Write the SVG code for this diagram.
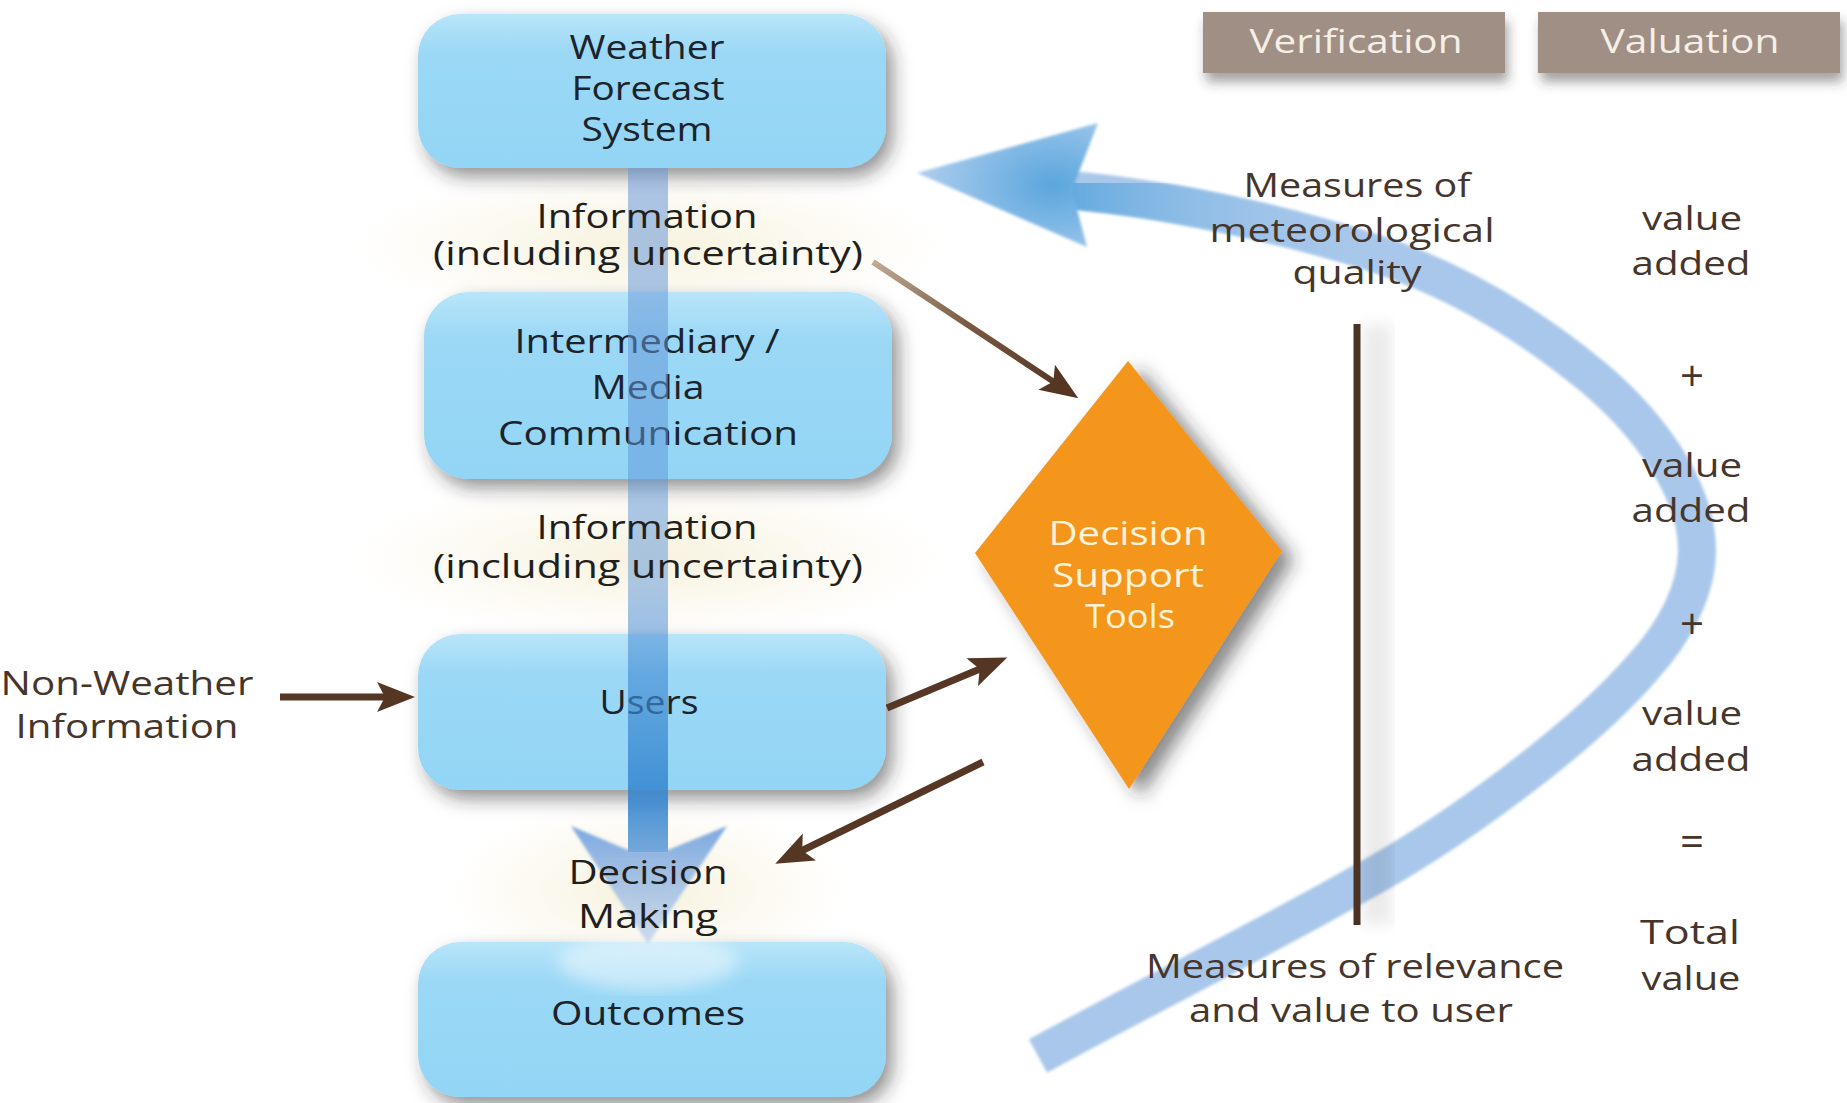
<svg xmlns="http://www.w3.org/2000/svg" width="1847" height="1103" viewBox="0 0 1847 1103">
<style>
text{font-family:"Open Sans","Noto Sans","Liberation Sans",sans-serif;text-anchor:middle}
.bt{font-size:32px;fill:#1b232b}
.lb{font-size:32px;fill:#221e1b}
.br{font-size:33px;fill:#46352b}
.dt{font-size:32px;fill:#fff3da}
.hd{font-size:32px;fill:#f5efe7}
.pm{font-size:42px;fill:#46352b}
.box{fill:url(#boxg);filter:url(#sh)}
.arr{fill:none;stroke:#563725;stroke-width:7;marker-end:url(#ah)}
</style>
<defs>
<linearGradient id="boxg" x1="0" y1="0" x2="0" y2="1">
<stop offset="0" stop-color="#b9e5f9"/>
<stop offset="0.25" stop-color="#9bd8f6"/>
<stop offset="1" stop-color="#93d5f5"/>
</linearGradient>
<linearGradient id="barg" x1="0" y1="168" x2="0" y2="860" gradientUnits="userSpaceOnUse">
<stop offset="0" stop-color="#6a98d8" stop-opacity="0.55"/>
<stop offset="0.6" stop-color="#5b95d8" stop-opacity="0.5"/>
<stop offset="0.8" stop-color="#3a88d0" stop-opacity="0.7"/>
<stop offset="0.92" stop-color="#2f82cf" stop-opacity="0.85"/>
<stop offset="1" stop-color="#5a96d6" stop-opacity="0.8"/>
</linearGradient>
<linearGradient id="headg" x1="0" y1="828" x2="0" y2="944" gradientUnits="userSpaceOnUse">
<stop offset="0" stop-color="#6e9fdc" stop-opacity="0.9"/>
<stop offset="1" stop-color="#a9c4ea" stop-opacity="0.55"/>
</linearGradient>
<linearGradient id="g1" x1="873" y1="262" x2="1060" y2="386" gradientUnits="userSpaceOnUse">
<stop offset="0" stop-color="#c0ab94"/>
<stop offset="0.5" stop-color="#7a5a42"/>
<stop offset="1" stop-color="#563725"/>
</linearGradient>
<linearGradient id="curveHead" x1="1075" y1="0" x2="1380" y2="0" gradientUnits="userSpaceOnUse">
<stop offset="0" stop-color="#5ea8de" stop-opacity="0.9"/>
<stop offset="1" stop-color="#a8c7ea" stop-opacity="0"/>
</linearGradient>
<radialGradient id="bigHead" cx="0.75" cy="0.5" r="0.7">
<stop offset="0" stop-color="#5aa6dd"/>
<stop offset="1" stop-color="#a8cbec"/>
</radialGradient>
<radialGradient id="glow" cx="0.5" cy="0.5" r="0.5">
<stop offset="0" stop-color="#f7f2de"/>
<stop offset="1" stop-color="#f7f2de" stop-opacity="0"/>
</radialGradient>
<filter id="sh" x="-20%" y="-20%" width="150%" height="160%">
<feDropShadow dx="7" dy="9" stdDeviation="9" flood-color="#2a2a2a" flood-opacity="0.5"/>
</filter>
<filter id="shd" x="-30%" y="-20%" width="170%" height="150%">
<feDropShadow dx="12" dy="8" stdDeviation="9" flood-color="#2a2a2a" flood-opacity="0.55"/>
</filter>
<filter id="shv" x="-10%" y="-30%" width="130%" height="190%">
<feDropShadow dx="3" dy="9" stdDeviation="6" flood-color="#333" flood-opacity="0.45"/>
</filter>
<filter id="blur8"><feGaussianBlur stdDeviation="8"/></filter>
<filter id="blur2"><feGaussianBlur stdDeviation="1.5"/></filter>
<marker id="ah" markerUnits="userSpaceOnUse" viewBox="-20 -18 44 36" refX="0" refY="0" markerWidth="44" markerHeight="36" orient="auto">
<path d="M22,0 L-16,-15 L-8,0 L-16,15 Z" fill="#553622"/>
</marker>
</defs>

<rect x="0" y="0" width="1847" height="1103" fill="#ffffff"/>
<!-- warm glow behind labels -->
<ellipse cx="648" cy="245" rx="300" ry="75" fill="url(#glow)"/>
<ellipse cx="648" cy="558" rx="300" ry="80" fill="url(#glow)"/>
<ellipse cx="648" cy="890" rx="200" ry="90" fill="url(#glow)"/>

<!-- column headers -->
<g id="verification">
<rect x="1203" y="12" width="302" height="61" fill="#9f8f84" filter="url(#shv)"/>
<text class="hd" x="1356" y="53" textLength="213" lengthAdjust="spacingAndGlyphs">Verification</text>
</g>
<g id="valuation">
<rect x="1538" y="12" width="302" height="61" fill="#9f8f84" filter="url(#shv)"/>
<text class="hd" x="1690" y="53" textLength="179" lengthAdjust="spacingAndGlyphs">Valuation</text>
</g>

<!-- connectors -->
<g id="connectors">
<g id="value-loop">
<path d="M1038,1056 C1140,1000 1260,940 1357,885 C1450,835 1580,740 1643,667 C1675,632 1697,590 1697,550 C1697,490 1650,425 1593,377 C1530,325 1460,282 1380,255 C1280,222 1160,198 1070,190" fill="none" stroke="#a8c7ea" stroke-width="38" filter="url(#blur2)"/>
<path d="M1380,255 C1280,222 1160,198 1070,190" fill="none" stroke="url(#curveHead)" stroke-width="38" filter="url(#blur2)"/>
<polygon points="917,173 1098,123 1072,190 1087,247" fill="url(#bigHead)" filter="url(#blur2)"/>
</g>
<rect x="1362" y="324" width="30" height="601" fill="#000" opacity="0.08" filter="url(#blur8)"/>
<line x1="1357" y1="324" x2="1357" y2="925" stroke="#4b3222" stroke-width="7"/>
</g>

<!-- nodes -->
<g id="weather-forecast-system">
<rect class="box" x="418" y="14" width="468" height="154" rx="42"/>
<text class="bt" x="647" y="59" textLength="155" lengthAdjust="spacingAndGlyphs">Weather</text>
<text class="bt" x="648" y="100" textLength="153" lengthAdjust="spacingAndGlyphs">Forecast</text>
<text class="bt" x="647" y="141" textLength="131" lengthAdjust="spacingAndGlyphs">System</text>
</g>
<g id="intermediary-media">
<rect class="box" x="424" y="292" width="468" height="187" rx="45"/>
<text class="bt" x="647" y="353" textLength="265" lengthAdjust="spacingAndGlyphs">Intermediary /</text>
<text class="bt" x="648" y="399" textLength="113" lengthAdjust="spacingAndGlyphs">Media</text>
<text class="bt" x="648" y="445" textLength="300" lengthAdjust="spacingAndGlyphs">Communication</text>
</g>
<g id="users">
<rect class="box" x="418" y="634" width="468" height="156" rx="42"/>
<text class="bt" x="649" y="714" textLength="99" lengthAdjust="spacingAndGlyphs">Users</text>
</g>
<g id="outcomes">
<rect class="box" x="418" y="942" width="468" height="155" rx="42"/>
<ellipse cx="648" cy="962" rx="90" ry="28" fill="#ffffff" opacity="0.45" filter="url(#blur8)"/>
<text class="bt" x="648" y="1025" textLength="194" lengthAdjust="spacingAndGlyphs">Outcomes</text>
</g>

<!-- main information flow -->
<g id="flow">
<rect x="628" y="168" width="40" height="684" fill="url(#barg)"/>
<polygon points="571,826 628,850 668,850 727,826 648,944" fill="url(#headg)" filter="url(#blur2)"/>
</g>

<g id="decision-support-tools">
<polygon points="1128,361 1282,551 1129,789 975,553" fill="#f4951f" filter="url(#shd)"/>
<text class="dt" x="1128" y="545" textLength="159" lengthAdjust="spacingAndGlyphs">Decision</text>
<text class="dt" x="1128" y="587" textLength="152" lengthAdjust="spacingAndGlyphs">Support</text>
<text class="dt" x="1130" y="628" textLength="90" lengthAdjust="spacingAndGlyphs">Tools</text>
</g>

<g id="arrows">
<path d="M873,262 L1060,386" fill="none" stroke="url(#g1)" stroke-width="6" marker-end="url(#ah)"/>
<path class="arr" d="M887,708 L987,666"/>
<path class="arr" d="M983,762 L795,854"/>
<path class="arr" d="M280,697 L393,697" stroke-width="8"/>
</g>

<!-- labels -->
<g id="info-label-1">
<text class="lb" x="647" y="228" textLength="221" lengthAdjust="spacingAndGlyphs">Information</text>
<text class="lb" x="648" y="265" textLength="430" lengthAdjust="spacingAndGlyphs">(including uncertainty)</text>
</g>
<g id="info-label-2">
<text class="lb" x="647" y="539" textLength="221" lengthAdjust="spacingAndGlyphs">Information</text>
<text class="lb" x="648" y="578" textLength="430" lengthAdjust="spacingAndGlyphs">(including uncertainty)</text>
</g>
<g id="decision-making">
<text class="lb" x="648" y="884" textLength="159" lengthAdjust="spacingAndGlyphs">Decision</text>
<text class="lb" x="648" y="928" textLength="140" lengthAdjust="spacingAndGlyphs">Making</text>
</g>
<g id="non-weather">
<text class="br" x="127" y="695" textLength="253" lengthAdjust="spacingAndGlyphs">Non-Weather</text>
<text class="br" x="127" y="738" textLength="223" lengthAdjust="spacingAndGlyphs">Information</text>
</g>
<g id="meteorological-quality">
<text class="br" x="1357" y="197" textLength="227" lengthAdjust="spacingAndGlyphs">Measures of</text>
<text class="br" x="1352" y="242" textLength="285" lengthAdjust="spacingAndGlyphs">meteorological</text>
<text class="br" x="1357" y="284" textLength="129" lengthAdjust="spacingAndGlyphs">quality</text>
</g>
<g id="relevance-value">
<text class="br" x="1355" y="978" textLength="418" lengthAdjust="spacingAndGlyphs">Measures of relevance</text>
<text class="br" x="1351" y="1022" textLength="324" lengthAdjust="spacingAndGlyphs">and value to user</text>
</g>
<g id="valuation-sum">
<text class="br" x="1692" y="230" textLength="100" lengthAdjust="spacingAndGlyphs">value</text>
<text class="br" x="1691" y="275" textLength="119" lengthAdjust="spacingAndGlyphs">added</text>
<text class="pm" x="1692" y="391">+</text>
<text class="br" x="1692" y="477" textLength="100" lengthAdjust="spacingAndGlyphs">value</text>
<text class="br" x="1691" y="522" textLength="119" lengthAdjust="spacingAndGlyphs">added</text>
<text class="pm" x="1692" y="639">+</text>
<text class="br" x="1692" y="725" textLength="100" lengthAdjust="spacingAndGlyphs">value</text>
<text class="br" x="1691" y="771" textLength="119" lengthAdjust="spacingAndGlyphs">added</text>
<text class="pm" x="1692" y="856">=</text>
<text class="br" x="1690" y="944" textLength="100" lengthAdjust="spacingAndGlyphs">Total</text>
<text class="br" x="1691" y="990" textLength="99" lengthAdjust="spacingAndGlyphs">value</text>
</g>
</svg>
